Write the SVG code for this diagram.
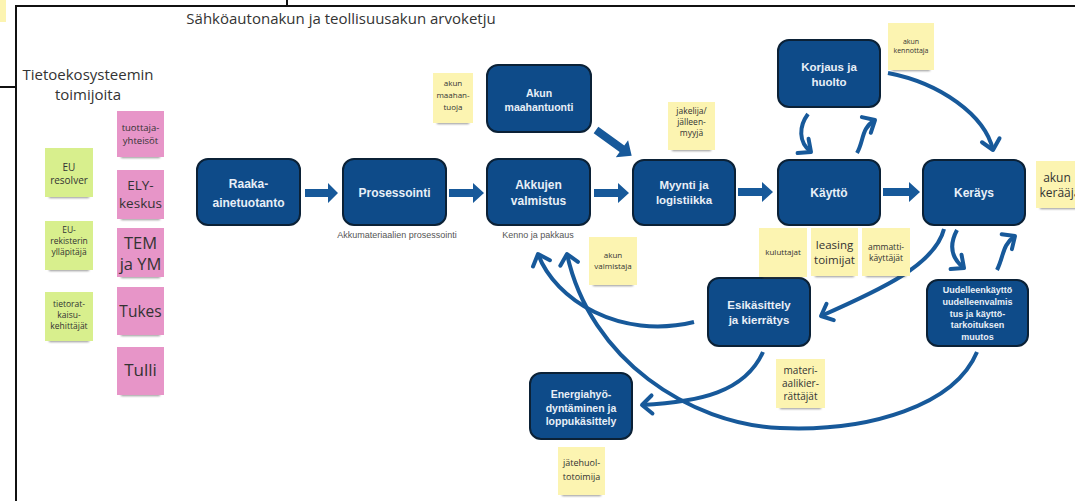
<svg xmlns="http://www.w3.org/2000/svg" width="1075" height="501" viewBox="0 0 1075 501">
<style>
.node rect{fill:#0e4b89;stroke:#0b2136;stroke-width:2}
.nt{font-family:"Liberation Sans",Arial,sans-serif;font-weight:bold;fill:#e8eff7;text-anchor:middle}
.st{font-family:"Open Sans","Liberation Sans",sans-serif;fill:#333;text-anchor:middle}
.y{fill:#fcf4b1}.g{fill:#d8ef8d}.p{fill:#e795c8}
.sh{fill:#444;opacity:.55;filter:url(#blur)}
.sub{font-family:"Liberation Sans",Arial,sans-serif;font-size:9px;fill:#555;text-anchor:middle}
.blk{fill:#17599a}
.cv{fill:none;stroke:#17599a;stroke-width:4;marker-end:url(#v)}
.frame{stroke:#111;stroke-width:2;fill:none}
</style>
<defs>
<filter id="blur" x="-20%" y="-100%" width="140%" height="300%"><feGaussianBlur stdDeviation="1.2"/></filter>
<marker id="v" markerUnits="userSpaceOnUse" markerWidth="24" markerHeight="24" viewBox="0 0 24 24" refX="14" refY="12" orient="auto">
<path d="M4,3 L14,12 L4,21" fill="none" stroke="#17599a" stroke-width="4" stroke-linecap="round" stroke-linejoin="round"/>
</marker>
</defs>
<rect width="1075" height="501" fill="#fff"/>
<rect x="0" y="0" width="6" height="22" fill="#fcf4b1"/>
<g id="frame">
<path class="frame" d="M16,501 V6 H1075"/>
<path class="frame" d="M287,0 V6"/>
<path class="frame" d="M0,87 H16"/>
</g>
<text x="341" y="24" font-family="Open Sans, Liberation Sans, sans-serif" font-size="15" fill="#333" text-anchor="middle">Sähköautonakun ja teollisuusakun arvoketju</text>
<text x="88" y="80" font-family="Open Sans, Liberation Sans, sans-serif" font-size="15" fill="#333" text-anchor="middle">Tietoekosysteemin</text>
<text x="88" y="100" font-family="Open Sans, Liberation Sans, sans-serif" font-size="15" fill="#333" text-anchor="middle">toimijoita</text>

<g id="connectors">
<polygon class="blk" points="305,189 328,189 328,183 338,193 328,203 328,197 305,197"/>
<polygon class="blk" points="449,189 473,189 473,183 484,193 473,203 473,197 449,197"/>
<polygon class="blk" points="594,189 618,189 618,183 629,193 618,203 618,197 594,197"/>
<polygon class="blk" points="738,188 762,188 762,182 773,192 762,202 762,196 738,196"/>
<polygon class="blk" points="883,188 909,188 909,182 920,192 909,202 909,196 883,196"/>
<polygon class="blk" points="0,-4 32,-4 32,-10.5 44,0 32,10.5 32,4 0,4" transform="translate(596,130) rotate(35.8)"/>
<path class="cv" d="M808,114 C799,126 798,142 811,152"/>
<path class="cv" d="M857,153 C864,141 861,128 875,120"/>
<path class="cv" d="M888,73 C940,83 985,115 993,150"/>
<path class="cv" d="M957,230 C949,245 951,258 964,268"/>
<path class="cv" d="M997,270 C1004,256 1002,245 1015,236"/>
<path class="cv" d="M944,229 C935,265 880,290 821,316"/>
<path class="cv" d="M694,322 C620,340 555,300 538,254"/>
<path class="cv" d="M977,352 C955,405 870,432 780,428 C690,424 590,360 567,254"/>
<path class="cv" d="M763,352 C745,392 700,402 642,405"/>
</g>

<g id="raaka" class="node"><rect x="197" y="159" width="103" height="66" rx="11"/><text class="nt" font-size="12" x="248.5" y="188">Raaka-</text><text class="nt" font-size="12" x="248.5" y="207">ainetuotanto</text></g>
<g id="prosessointi" class="node"><rect x="343" y="159" width="103" height="66" rx="11"/><text class="nt" font-size="12" x="394.5" y="197">Prosessointi</text></g>
<g id="akkujen" class="node"><rect x="487" y="159" width="103" height="66" rx="11"/><text class="nt" font-size="12" x="538.5" y="189">Akkujen</text><text class="nt" font-size="12" x="538.5" y="205">valmistus</text></g>
<g id="maahantuonti" class="node"><rect x="487" y="65" width="104" height="67" rx="11"/><text class="nt" font-size="10.5" x="539" y="97">Akun</text><text class="nt" font-size="10.5" x="539" y="111">maahantuonti</text></g>
<g id="myynti" class="node"><rect x="633" y="160" width="102" height="65" rx="11"/><text class="nt" font-size="11.5" x="684" y="189">Myynti ja</text><text class="nt" font-size="11.5" x="684" y="204">logistiikka</text></g>
<g id="kaytto" class="node"><rect x="778" y="160" width="102" height="65" rx="11"/><text class="nt" font-size="12" x="829" y="197">Käyttö</text></g>
<g id="korjaus" class="node"><rect x="778" y="40" width="102" height="67" rx="11"/><text class="nt" font-size="11.5" x="829" y="71">Korjaus ja</text><text class="nt" font-size="11.5" x="829" y="86">huolto</text></g>
<g id="kerays" class="node"><rect x="923" y="160" width="102" height="65" rx="11"/><text class="nt" font-size="12" x="974" y="197">Keräys</text></g>
<g id="esikasittely" class="node"><rect x="708" y="278" width="102" height="68" rx="11"/><text class="nt" font-size="11.5" x="759" y="309">Esikäsittely</text><text class="nt" font-size="11.5" x="759" y="324">ja kierrätys</text></g>
<g id="uudelleen" class="node"><rect x="927" y="280" width="101" height="66" rx="11"/><text class="nt" font-size="9" x="977.5" y="293">Uudelleenkäyttö</text><text class="nt" font-size="9" x="977.5" y="305">uudelleenvalmis</text><text class="nt" font-size="9" x="977.5" y="316.5">tus ja käyttö-</text><text class="nt" font-size="9" x="977.5" y="328">tarkoituksen</text><text class="nt" font-size="9" x="977.5" y="340">muutos</text></g>
<g id="energia" class="node"><rect x="530" y="373" width="102" height="66" rx="11"/><text class="nt" font-size="10.5" x="581" y="398">Energiahyö-</text><text class="nt" font-size="10.5" x="581" y="411.5">dyntäminen ja</text><text class="nt" font-size="10.5" x="581" y="425">loppukäsittely</text></g>
<text class="sub" x="397" y="238">Akkumateriaalien prosessointi</text>
<text class="sub" x="538" y="238">Kenno ja pakkaus</text>

<g id="n-maahantuoja"><rect class="sh" x="437" y="121" width="32" height="3"/><rect class="y" x="433" y="73" width="40" height="50"/><text class="st" font-size="8" x="453" y="86">akun</text><text class="st" font-size="8" x="453" y="98">maahan-</text><text class="st" font-size="8" x="453" y="110">tuoja</text></g>
<g id="n-jakelija"><rect class="sh" x="672" y="148" width="39" height="3"/><rect class="y" x="668" y="102" width="47" height="48"/><text class="st" font-size="8.5" x="691.5" y="114">jakelija/</text><text class="st" font-size="8.5" x="691.5" y="125">jälleen-</text><text class="st" font-size="8.5" x="691.5" y="136">myyjä</text></g>
<g id="n-kennottaja"><rect class="sh" x="892" y="68" width="38" height="3"/><rect class="y" x="888" y="23" width="46" height="47"/><text class="st" font-size="7" x="911" y="44">akun</text><text class="st" font-size="7" x="911" y="53">kennottaja</text></g>
<g id="n-keraaja"><rect class="sh" x="1040" y="206" width="44" height="3"/><rect class="y" x="1036" y="161" width="52" height="47"/><text class="st" font-size="12" x="1057" y="182">akun</text><text class="st" font-size="12" x="1060" y="197">kerääjä</text></g>
<g id="n-kuluttajat"><rect class="sh" x="763" y="275" width="40" height="3"/><rect class="y" x="759" y="228" width="48" height="49"/><text class="st" font-size="8" x="783" y="255">kuluttajat</text></g>
<g id="n-leasing"><rect class="sh" x="815" y="274" width="39" height="3"/><rect class="y" x="811" y="228" width="47" height="48"/><text class="st" font-size="11.5" x="834.5" y="248.5">leasing</text><text class="st" font-size="11.5" x="834.5" y="264">toimijat</text></g>
<g id="n-ammatti"><rect class="sh" x="866" y="274" width="40" height="3"/><rect class="y" x="862" y="228" width="48" height="48"/><text class="st" font-size="8.5" x="886" y="250">ammatti-</text><text class="st" font-size="8.5" x="886" y="261">käyttäjät</text></g>
<g id="n-valmistaja"><rect class="sh" x="593" y="283" width="40" height="3"/><rect class="y" x="589" y="237" width="48" height="48"/><text class="st" font-size="8" x="613" y="258">akun</text><text class="st" font-size="8" x="613" y="269">valmistaja</text></g>
<g id="n-materiaali"><rect class="sh" x="780" y="406" width="41" height="3"/><rect class="y" x="776" y="359" width="49" height="49"/><text class="st" font-size="10" x="800.5" y="373.5">materi-</text><text class="st" font-size="10" x="800.5" y="386.5">aalikier-</text><text class="st" font-size="10" x="800.5" y="399.5">rättäjät</text></g>
<g id="n-jatehuolto"><rect class="sh" x="562" y="493" width="39" height="3"/><rect class="y" x="558" y="447" width="47" height="48"/><text class="st" font-size="9" x="581.5" y="466">jätehuol-</text><text class="st" font-size="9" x="581.5" y="480">totoimija</text></g>

<g id="n-euresolver"><rect class="sh" x="49" y="195" width="40" height="3"/><rect class="g" x="45" y="148" width="48" height="49"/><text class="st" font-size="10" x="69" y="170.5">EU</text><text class="st" font-size="10" x="69" y="183.5">resolver</text></g>
<g id="n-eurekisteri"><rect class="sh" x="49" y="268" width="40" height="3"/><rect class="g" x="45" y="221" width="48" height="49"/><text class="st" font-size="8.5" x="69" y="233">EU-</text><text class="st" font-size="8.5" x="69" y="244">rekisterin</text><text class="st" font-size="8.5" x="69" y="255">ylläpitäjä</text></g>
<g id="n-tietoratkaisu"><rect class="sh" x="49" y="339" width="40" height="3"/><rect class="g" x="45" y="292" width="48" height="49"/><text class="st" font-size="8.5" x="69" y="306.5">tietorat-</text><text class="st" font-size="8.5" x="69" y="317.5">kaisu-</text><text class="st" font-size="8.5" x="69" y="328.5">kehittäjät</text></g>

<g id="n-tuottaja"><rect class="sh" x="121" y="155" width="39" height="3"/><rect class="p" x="117" y="111" width="47" height="46"/><text class="st" font-size="9.5" x="140.5" y="131">tuottaja-</text><text class="st" font-size="9.5" x="140.5" y="144">yhteisöt</text></g>
<g id="n-ely"><rect class="sh" x="121" y="217" width="39" height="3"/><rect class="p" x="117" y="170" width="47" height="49"/><text class="st" font-size="13.5" x="140.5" y="190">ELY-</text><text class="st" font-size="13.5" x="140.5" y="208">keskus</text></g>
<g id="n-tem"><rect class="sh" x="121" y="275" width="39" height="3"/><rect class="p" x="117" y="228" width="47" height="49"/><text class="st" font-size="16.5" x="140.5" y="249">TEM</text><text class="st" font-size="16.5" x="140.5" y="270">ja YM</text></g>
<g id="n-tukes"><rect class="sh" x="121" y="333" width="39" height="3"/><rect class="p" x="117" y="287" width="47" height="48"/><text class="st" font-size="15.5" x="140.5" y="317">Tukes</text></g>
<g id="n-tulli"><rect class="sh" x="121" y="393" width="39" height="3"/><rect class="p" x="117" y="347" width="47" height="48"/><text class="st" font-size="17" x="140.5" y="376">Tulli</text></g>
</svg>
